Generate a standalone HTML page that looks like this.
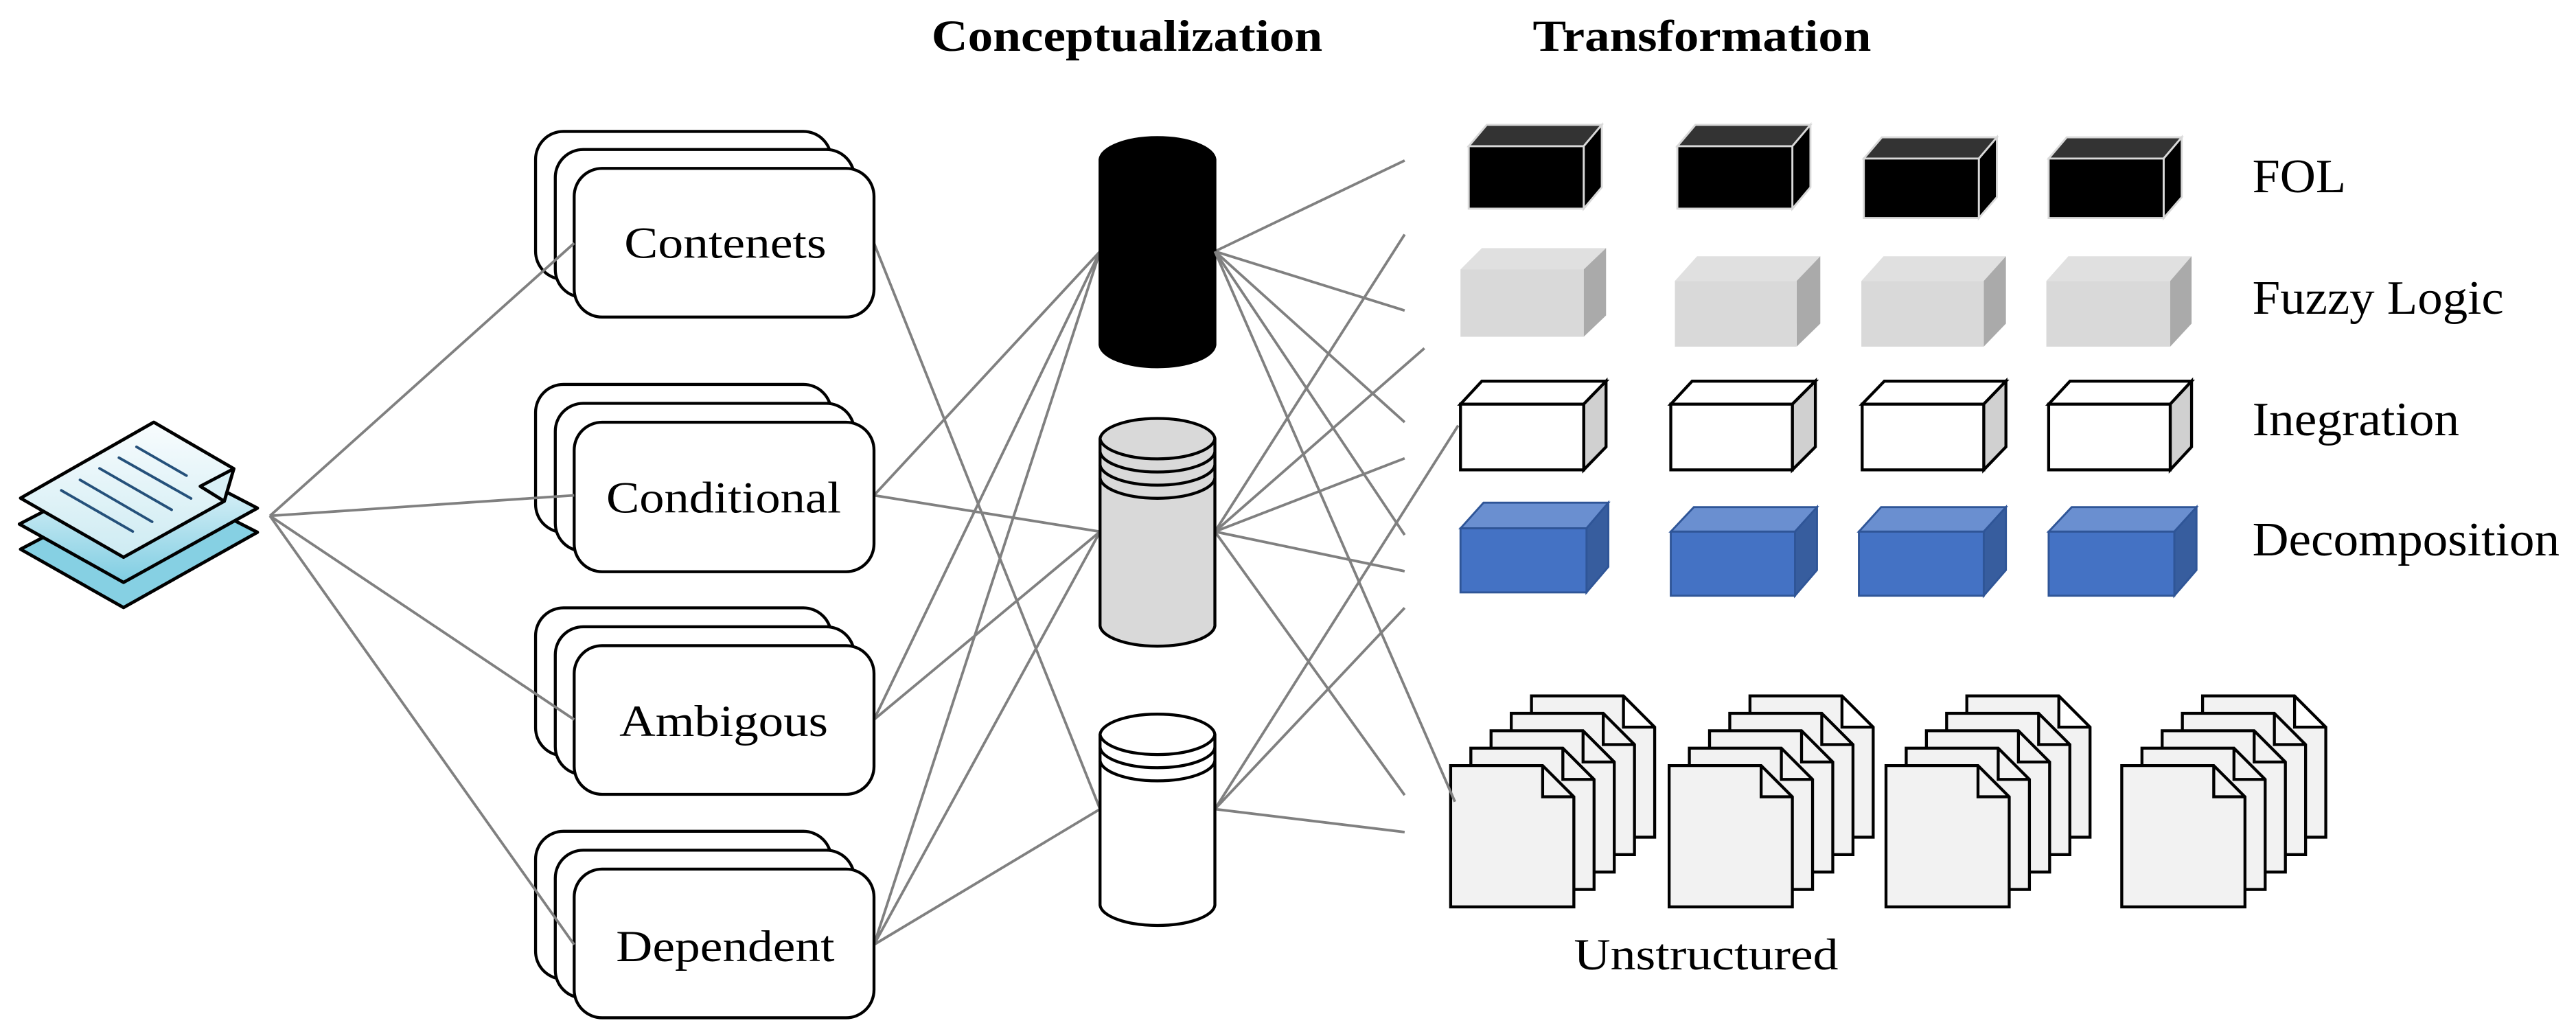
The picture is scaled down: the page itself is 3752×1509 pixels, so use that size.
<!DOCTYPE html>
<html><head><meta charset="utf-8"><style>
html,body{margin:0;padding:0;background:#fff;}
svg{display:block;}
text{font-family:"Liberation Serif","Times New Roman",serif;fill:#000;}
</style></head><body>
<svg width="3752" height="1509" viewBox="0 0 1568 630.6" preserveAspectRatio="none" xmlns="http://www.w3.org/2000/svg">
<defs>
<linearGradient id="pg" x1="0" y1="0" x2="0" y2="1">
<stop offset="0" stop-color="#f7fcfe"/><stop offset="1" stop-color="#7fcde2"/>
</linearGradient>
<linearGradient id="pg2" x1="0" y1="0" x2="0" y2="1">
<stop offset="0" stop-color="#f8fcfe"/><stop offset="1" stop-color="#cdebf2"/>
</linearGradient>
</defs>

<text x="567" y="31" font-size="27" font-weight="bold" textLength="238" lengthAdjust="spacingAndGlyphs">Conceptualization</text>
<text x="933" y="31" font-size="27" font-weight="bold" textLength="206" lengthAdjust="spacingAndGlyphs">Transformation</text>

<g stroke="#808080" stroke-width="1.6" fill="none">
<line x1="532" y1="148" x2="669.6" y2="492.5"/>
<line x1="532" y1="301.5" x2="669.6" y2="153"/>
<line x1="532" y1="301.5" x2="669.6" y2="323.6"/>
<line x1="532" y1="438" x2="669.6" y2="153"/>
<line x1="532" y1="438" x2="669.6" y2="323.6"/>
<line x1="532" y1="575" x2="669.6" y2="153"/>
<line x1="532" y1="575" x2="669.6" y2="323.6"/>
<line x1="532" y1="575" x2="669.6" y2="492.5"/>
<line x1="739.5" y1="153" x2="855" y2="97.7"/>
<line x1="739.5" y1="153" x2="855" y2="189"/>
<line x1="739.5" y1="153" x2="855" y2="257"/>
<line x1="739.5" y1="153" x2="855" y2="325.6"/>
<line x1="739.5" y1="323.6" x2="855" y2="142.7"/>
<line x1="739.5" y1="323.6" x2="867" y2="212"/>
<line x1="739.5" y1="323.6" x2="855" y2="279"/>
<line x1="739.5" y1="323.6" x2="855" y2="347.7"/>
<line x1="739.5" y1="323.6" x2="855" y2="484"/>
<line x1="739.5" y1="492.5" x2="887.6" y2="259"/>
<line x1="739.5" y1="492.5" x2="855" y2="370"/>
<line x1="739.5" y1="492.5" x2="855" y2="506.5"/>
</g>

<g stroke="#000" stroke-width="2" stroke-linejoin="round">
<polygon points="12.5,334.3 93.6,291.8 156.7,324 75.2,369.8" fill="#86d0e3"/>
<polygon points="11.8,319 93.6,276.5 156.7,309.3 75.2,354.5" fill="url(#pg)"/>
<polygon points="12.5,303.2 93.6,257 142.3,285.3 136.5,305.1 75.2,339.2" fill="url(#pg2)"/>
<polygon points="121.9,296 142.3,285.3 136.5,305.1" fill="#d8f0f6"/>
</g>
<g stroke="#24507a" stroke-width="1.6" stroke-linecap="round">
<line x1="37.3" y1="298.5" x2="80.8" y2="323.5"/>
<line x1="48.7" y1="292.1" x2="92.6" y2="317.6"/>
<line x1="60.6" y1="285.1" x2="104.5" y2="310.3"/>
<line x1="72.4" y1="278.6" x2="116.3" y2="303.4"/>
<line x1="83.1" y1="272" x2="113.5" y2="289.5"/>
</g>

<g stroke="#000" stroke-width="1.8" fill="#fff">
<g>
<rect x="326" y="80" width="180" height="90" rx="17"/>
<rect x="338" y="91" width="182" height="90" rx="17"/>
<rect x="349.5" y="102.5" width="182.5" height="90.5" rx="17"/>
</g>
<g>
<rect x="326" y="234" width="180" height="90" rx="17"/>
<rect x="338" y="245.5" width="182" height="90" rx="17"/>
<rect x="349.5" y="257" width="182.5" height="91" rx="17"/>
</g>
<g>
<rect x="326" y="370" width="180" height="90" rx="17"/>
<rect x="338" y="381.5" width="182" height="90" rx="17"/>
<rect x="349.5" y="393" width="182.5" height="90.5" rx="17"/>
</g>
<g>
<rect x="326" y="506" width="180" height="90" rx="17"/>
<rect x="338" y="517.5" width="182" height="90" rx="17"/>
<rect x="349.5" y="529" width="182.5" height="90.5" rx="17"/>
</g>
</g>
<g stroke="#808080" stroke-width="1.6">
<line x1="164.3" y1="314" x2="349.5" y2="148"/>
<line x1="164.3" y1="314" x2="349.5" y2="301.5"/>
<line x1="164.3" y1="314" x2="349.5" y2="438"/>
<line x1="164.3" y1="314" x2="349.5" y2="575"/>
</g>
<text x="380" y="157" font-size="27" textLength="123" lengthAdjust="spacingAndGlyphs">Contenets</text>
<text x="369" y="312" font-size="27" textLength="143" lengthAdjust="spacingAndGlyphs">Conditional</text>
<text x="377" y="448" font-size="27" textLength="127" lengthAdjust="spacingAndGlyphs">Ambigous</text>
<text x="375" y="585" font-size="27" textLength="133" lengthAdjust="spacingAndGlyphs">Dependent</text>

<g stroke="#000" stroke-width="1.8">
<path d="M669.6,97 A35,14 0 0 1 739.5,97 V210 A35,14 0 0 1 669.6,210 Z" fill="#000"/>
<path d="M669.6,267 A35,13 0 0 1 739.5,267 V381 A35,13 0 0 1 669.6,381 Z" fill="#d9d9d9"/>
<path d="M669.6,267 A35,13 0 0 0 739.5,267 M669.6,275 A35,13 0 0 0 739.5,275 M669.6,283 A35,13 0 0 0 739.5,283 M669.6,291 A35,13 0 0 0 739.5,291" fill="none"/>
<path d="M669.6,447 A35,13 0 0 1 739.5,447 V551 A35,13 0 0 1 669.6,551 Z" fill="#fff"/>
<path d="M669.6,447 A35,13 0 0 0 739.5,447 M669.6,455 A35,13 0 0 0 739.5,455 M669.6,463 A35,13 0 0 0 739.5,463" fill="none"/>
</g>

<g stroke="#d9d9d9" stroke-width="1.2">
<g><polygon points="894,89 905,76 975,76 964,89" fill="#333"/><polygon points="964,89 975,76 975,114 964,127" fill="#000"/><rect x="894" y="89" width="70" height="38" fill="#000"/></g>
<g><polygon points="1021,89 1032,76 1102,76 1091,89" fill="#333"/><polygon points="1091,89 1102,76 1102,114 1091,127" fill="#000"/><rect x="1021" y="89" width="70" height="38" fill="#000"/></g>
<g><polygon points="1134.5,96.5 1145.5,83.6 1215.5,83.6 1204.5,96.5" fill="#333"/><polygon points="1204.5,96.5 1215.5,83.6 1215.5,120 1204.5,132.7" fill="#000"/><rect x="1134.5" y="96.5" width="70" height="36.2" fill="#000"/></g>
<g><polygon points="1247,96.5 1258,83.6 1328,83.6 1317,96.5" fill="#333"/><polygon points="1317,96.5 1328,83.6 1328,120 1317,132.7" fill="#000"/><rect x="1247" y="96.5" width="70" height="36.2" fill="#000"/></g>
</g>
<g stroke="none">
<g><polygon points="889,164 902,151 977.6,151 964,164" fill="#e0e0e0"/><polygon points="964,164 977.6,151 977.6,192 964,205" fill="#aaa"/><rect x="889" y="164" width="75" height="41" fill="#d9d9d9"/></g>
<g><polygon points="1019.5,171 1033,156 1108,156 1093.6,171" fill="#e0e0e0"/><polygon points="1093.6,171 1108,156 1108,197 1093.6,211" fill="#aaa"/><rect x="1019.5" y="171" width="74" height="40" fill="#d9d9d9"/></g>
<g><polygon points="1133,171 1146.5,156 1221,156 1207.5,171" fill="#e0e0e0"/><polygon points="1207.5,171 1221,156 1221,197 1207.5,211" fill="#aaa"/><rect x="1133" y="171" width="74.5" height="40" fill="#d9d9d9"/></g>
<g><polygon points="1245.6,171 1259,156 1334,156 1321,171" fill="#e0e0e0"/><polygon points="1321,171 1334,156 1334,197 1321,211" fill="#aaa"/><rect x="1245.6" y="171" width="75.4" height="40" fill="#d9d9d9"/></g>
</g>
<g stroke="#000" stroke-width="1.8">
<g><polygon points="889,246 902,232 977.6,232 964,246" fill="#fff"/><polygon points="964,246 977.6,232 977.6,272 964,286" fill="#d0d0d0"/><rect x="889" y="246" width="75" height="40" fill="#fff"/></g>
<g><polygon points="1017,246 1030,232 1105,232 1091,246" fill="#fff"/><polygon points="1091,246 1105,232 1105,272 1091,286" fill="#d0d0d0"/><rect x="1017" y="246" width="74" height="40" fill="#fff"/></g>
<g><polygon points="1133.5,246 1147,232 1221,232 1207.5,246" fill="#fff"/><polygon points="1207.5,246 1221,232 1221,272 1207.5,286" fill="#d0d0d0"/><rect x="1133.5" y="246" width="74" height="40" fill="#fff"/></g>
<g><polygon points="1247,246 1260,232 1334,232 1321,246" fill="#fff"/><polygon points="1321,246 1334,232 1334,272 1321,286" fill="#d0d0d0"/><rect x="1247" y="246" width="74" height="40" fill="#fff"/></g>
</g>
<g stroke="#2f5597" stroke-width="1.2">
<g><polygon points="889,321.6 903,306 979,306 965.7,321.6" fill="#6a8fd0"/><polygon points="965.7,321.6 979,306 979,345 965.7,360.6" fill="#375d9e"/><rect x="889" y="321.6" width="76.7" height="39" fill="#4472c4"/></g>
<g><polygon points="1017,323.6 1031,308.7 1106,308.7 1092.6,323.6" fill="#6a8fd0"/><polygon points="1092.6,323.6 1106,308.7 1106,347 1092.6,362.6" fill="#375d9e"/><rect x="1017" y="323.6" width="75.6" height="39" fill="#4472c4"/></g>
<g><polygon points="1131.5,323.6 1145,308.7 1221,308.7 1207.5,323.6" fill="#6a8fd0"/><polygon points="1207.5,323.6 1221,308.7 1221,347 1207.5,362.6" fill="#375d9e"/><rect x="1131.5" y="323.6" width="76" height="39" fill="#4472c4"/></g>
<g><polygon points="1247,323.6 1261,308.7 1337,308.7 1323.5,323.6" fill="#6a8fd0"/><polygon points="1323.5,323.6 1337,308.7 1337,347 1323.5,362.6" fill="#375d9e"/><rect x="1247" y="323.6" width="76.5" height="39" fill="#4472c4"/></g>
</g>

<text x="1371" y="117" font-size="29" textLength="57" lengthAdjust="spacingAndGlyphs">FOL</text>
<text x="1371" y="191" font-size="29" textLength="153" lengthAdjust="spacingAndGlyphs">Fuzzy Logic</text>
<text x="1371" y="265" font-size="29" textLength="126" lengthAdjust="spacingAndGlyphs">Inegration</text>
<text x="1371" y="338" font-size="29" textLength="187" lengthAdjust="spacingAndGlyphs">Decomposition</text>

<g stroke="#000" stroke-width="1.8" fill="#f2f2f2" stroke-linejoin="miter">
<g id="dg">
<path d="M932.2,423.6 h56 l19,19 v67 h-75 Z M988.2,423.6 v19 h19"/>
<path d="M919.9,434.2 h56 l19,19 v67 h-75 Z M975.9,434.2 v19 h19"/>
<path d="M907.6,444.8 h56 l19,19 v67 h-75 Z M963.6,444.8 v19 h19"/>
<path d="M895.3,455.4 h56 l19,19 v67 h-75 Z M951.3,455.4 v19 h19"/>
<path d="M883,466 h56 l19,19 v67 h-75 Z M939,466 v19 h19"/>
</g>
<use href="#dg" transform="translate(133,0)"/>
<use href="#dg" transform="translate(265,0)"/>
<use href="#dg" transform="translate(408.5,0)"/>
</g>
<line x1="739.5" y1="153" x2="885.6" y2="488" stroke="#808080" stroke-width="1.6"/>
<text x="958" y="590" font-size="27" textLength="161" lengthAdjust="spacingAndGlyphs">Unstructured</text>
</svg>
</body></html>
